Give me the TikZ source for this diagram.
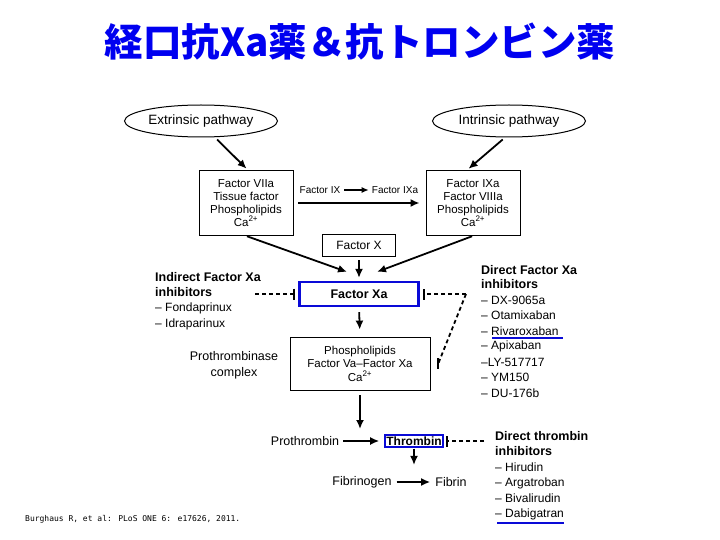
\documentclass[tikz,border=0pt]{standalone}
\usepackage{fontspec}
\setmainfont{Liberation Sans}
\newfontfamily\jpfont{Noto Sans CJK JP}
\newfontfamily\citefont{DejaVu Sans Mono}
\usetikzlibrary{shapes.geometric,arrows.meta}
\definecolor{titleblue}{RGB}{0,0,240}
\definecolor{markblue}{RGB}{10,10,215}
\tikzset{
  pathway/.style={draw,ellipse,line width=1pt,minimum width=153pt,minimum height=32pt,inner sep=0pt,
    font=\fontsize{13.5}{15}\selectfont},
  factorbox/.style={draw,line width=0.8pt,align=center,inner sep=2pt,minimum width=94pt,
    minimum height=65pt,font=\fontsize{11.5}{12.8}\selectfont},
  keybox/.style={draw=markblue,line width=2.2pt,inner sep=2pt,font=\bfseries\fontsize{12.5}{14}\selectfont},
  lbl/.style={inner sep=1pt,font=\fontsize{12.5}{16}\selectfont},
  small/.style={inner sep=1pt,font=\fontsize{10}{12}\selectfont},
  head/.style={anchor=west,inner sep=0pt,font=\bfseries\fontsize{12.5}{14}\selectfont},
  drug/.style={anchor=west,inner sep=0pt,font=\fontsize{12}{14}\selectfont},
  act/.style={-{Latex[length=9pt,width=8pt]},line width=1.8pt},
  inhib/.style={dashed,dash pattern=on 4pt off 3pt,-{Bar[width=11pt,line width=2pt]},line width=1.8pt},
  uline/.style={markblue,line width=1.8pt},
}
\begin{document}
\begin{tikzpicture}[x=1pt,y=-1pt]
  \useasboundingbox (0,0) rectangle (720,540);
  % title
  \node[text=titleblue,font=\jpfont\bfseries\fontsize{38.5}{44}\selectfont] (title) at (360,42)
    {経口抗Xa薬＆抗トロンビン薬};
  % pathways
  \node[pathway] (ext) at (201,121) {Extrinsic pathway};
  \node[pathway] (intr) at (509,121) {Intrinsic pathway};
  \node[factorbox] (vleft) at (246,203)
    {Factor VIIa\\Tissue factor\\Phospholipids\\Ca\textsuperscript{2+}};
  \node[factorbox] (vright) at (473,203)
    {Factor IXa\\Factor VIIIa\\Phospholipids\\Ca\textsuperscript{2+}};
  \node[small] (f9) at (320,190) {Factor IX};
  \node[small] (f9a) at (395,190) {Factor IXa};
  \node[factorbox,minimum width=73pt,minimum height=22pt,font=\fontsize{12}{14}\selectfont]
    (fx) at (359,245) {Factor X};
  \node[keybox,minimum width=119pt,minimum height=24pt] (fxa) at (359,294) {Factor Xa};
  \node[factorbox,minimum width=140pt,minimum height=53pt,font=\fontsize{11.5}{13.6}\selectfont]
    (ptc) at (360,363.5) {Phospholipids\\Factor Va--Factor Xa\\Ca\textsuperscript{2+}};
  \node[lbl,align=center] (ptcx) at (234,365) {Prothrombinase\\complex};
  \node[lbl] (pro) at (305,441) {Prothrombin};
  \node[keybox,line width=1.8pt,inner sep=1.2pt,font=\bfseries\fontsize{12}{13}\selectfont]
    (thr) at (414,441) {Thrombin};
  \node[lbl] (fbg) at (362,482) {Fibrinogen};
  \node[lbl] (fib) at (451,482) {Fibrin};

  % inhibitor lists
  \foreach \t [count=\i] in {Indirect Factor Xa,inhibitors}
    \node[head] (ind\i) at (155,262+15*\i) {\t};
  \foreach \t [count=\i] in {-- Fondaprinux,-- Idraparinux}
    \node[drug] (indd\i) at (155,293+15.5*\i) {\t};
  \foreach \t [count=\i] in {Direct Factor Xa,inhibitors}
    \node[head] (dxh\i) at (481,255.5+14.5*\i) {\t};
  \foreach \t [count=\i] in {-- DX-9065a,-- Otamixaban,-- Rivaroxaban,-- Apixaban,
      --LY-517717,-- YM150,-- DU-176b}
    \node[drug] (dxa\i) at (481,284.5+15.5*\i) {\t};
  \foreach \t [count=\i] in {Direct thrombin,inhibitors}
    \node[head] (dth\i) at (495,421+15*\i) {\t};
  \foreach \t [count=\i] in {-- Hirudin,-- Argatroban,-- Bivalirudin,-- Dabigatran}
    \node[drug] (dti\i) at (495,452+15.5*\i) {\t};

  \coordinate (indx) at (255,294);
  \coordinate (dirx) at (466,294);
  \coordinate (ptcbend) at (438.5,363);
  \coordinate (ptcend) at (436.5,363);
  \coordinate (thrx) at (484,441);

  % activation arrows
  \draw[act,shorten <=3pt,shorten >=2pt] ([xshift=14pt]ext.south) -- ([xshift=2pt]vleft.north);
  \draw[act,shorten <=3pt,shorten >=2pt] ([xshift=-4pt]intr.south) -- ([xshift=-6pt]vright.north);
  \draw[act,shorten <=5pt,shorten >=6pt] (vleft.east) -- (vright.west);
  \draw[act,line width=1.5pt,-{Latex[length=7pt,width=6pt]},shorten <=3pt,shorten >=2pt] (f9.east) -- (f9a.west);
  \draw[act,shorten <=1pt] (vleft.south) -- ([xshift=-12pt,yshift=9pt]fxa.north);
  \draw[act,shorten <=1pt] (vright.south) -- ([xshift=18pt,yshift=9pt]fxa.north);
  \draw[act,shorten <=4pt,shorten >=3pt] (fx.south) -- (fxa.north);
  \draw[act,shorten <=5pt,shorten >=7pt] (fxa.south) -- (ptc.north);
  \draw[act,shorten <=5pt] (ptc.south) -- ([yshift=12pt]ptc.south |- thr.west);
  \draw[act,shorten <=3pt,shorten >=5pt] (pro.east) -- (thr.west);
  \draw[act,shorten <=1pt] (thr.south) -- ([yshift=10pt]thr.south |- fbg.north);
  \draw[act,shorten <=4pt,shorten >=4pt] (fbg.east) -- (fib.west);

  % inhibition
  \draw[inhib,shorten >=3pt] (indx) -- (fxa.west);
  \draw[inhib,shorten >=3pt] (dirx) -- (fxa.east);
  \draw[inhib] (dirx) -- (ptcbend) -- (ptcend);
  \draw[inhib,shorten >=2pt] (thrx) -- (thr.east);

  % underlines
  \draw[uline] ([xshift=11pt,yshift=-2pt]dxa3.south west) -- ([xshift=4pt,yshift=-2pt]dxa3.south east);
  \draw[uline] ([xshift=2pt,yshift=-3pt]dti4.south west) -- ([yshift=-3pt]dti4.south east);

  \node[anchor=west,inner sep=0pt,font=\citefont\fontsize{8}{9}\selectfont] (cite) at (25,519)
    {Burghaus R, et al: PLoS ONE 6: e17626, 2011.};
\end{tikzpicture}
\end{document}
